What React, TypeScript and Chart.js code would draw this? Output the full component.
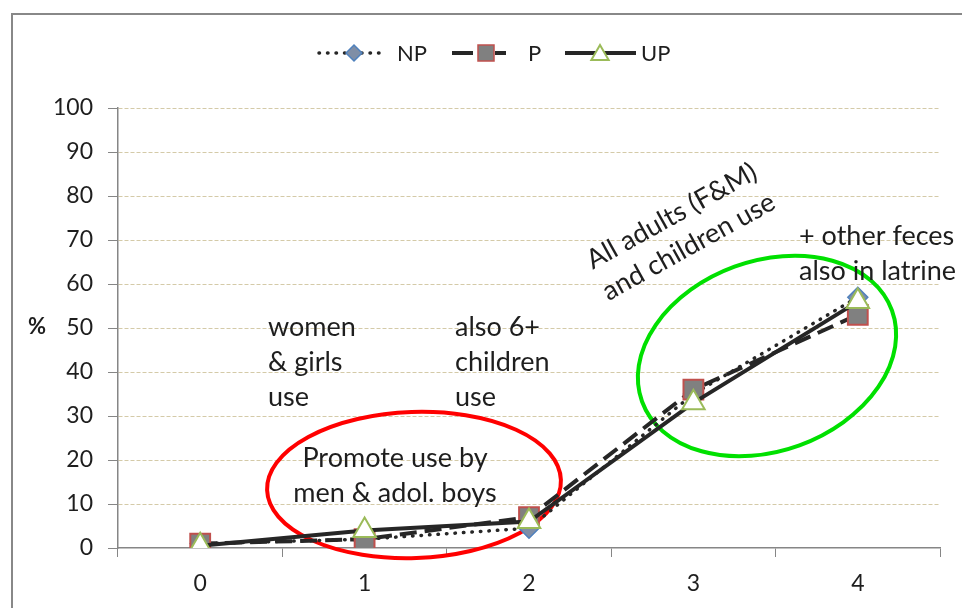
import React, { useEffect, useRef } from "react";
import { Chart, registerables } from "chart.js";

Chart.register(...registerables);

const categories = ["0", "1", "2", "3", "4"];
const npValues = [1, 2, 4.5, 35, 57];
const pValues = [1, 2, 7, 36, 53];
const upValues = [0.5, 4, 6, 33, 56];
const yTicks = [0, 10, 20, 30, 40, 50, 60, 70, 80, 90, 100];
const seriesNames = ["NP", "P", "UP"];

const FONT = "Lato, 'Open Sans', sans-serif";
const LINE = "#262626";
const TEXT = "#1E1E1E";

function drawDiamond(ctx: CanvasRenderingContext2D, x: number, y: number, r: number) {
  ctx.beginPath();
  ctx.moveTo(x - r, y);
  ctx.lineTo(x, y - r);
  ctx.lineTo(x + r, y);
  ctx.lineTo(x, y + r);
  ctx.closePath();
  ctx.fillStyle = "#7F8EA6";
  ctx.fill();
  ctx.strokeStyle = "#4F81BD";
  ctx.lineWidth = 1.5;
  ctx.stroke();
}
function drawSquare(ctx: CanvasRenderingContext2D, x: number, y: number, h: number) {
  ctx.beginPath();
  ctx.rect(x - h, y - h, 2 * h, 2 * h);
  ctx.fillStyle = "#808080";
  ctx.fill();
  ctx.strokeStyle = "#C0504D";
  ctx.lineWidth = 1.5;
  ctx.stroke();
}
function drawTriangle(ctx: CanvasRenderingContext2D, x: number, y: number, r: number) {
  ctx.beginPath();
  ctx.moveTo(x, y - r);
  ctx.lineTo(x + r * 0.866, y + r * 0.5);
  ctx.lineTo(x - r * 0.866, y + r * 0.5);
  ctx.closePath();
  ctx.fillStyle = "#FFFFFF";
  ctx.fill();
  ctx.strokeStyle = "#9BBB59";
  ctx.lineWidth = 2;
  ctx.stroke();
}

const decorPlugin = {
  id: "decor",
  beforeDraw(chart: any) {
    const ctx = chart.ctx as CanvasRenderingContext2D;
    ctx.save();
    ctx.fillStyle = "#FFFFFF";
    ctx.fillRect(0, 0, chart.width, chart.height);
    ctx.strokeStyle = "#888888";
    ctx.lineWidth = 2;
    ctx.beginPath();
    ctx.moveTo(12, chart.height + 2);
    ctx.lineTo(12, 14);
    ctx.lineTo(chart.width + 2, 14);
    ctx.stroke();
    ctx.restore();
  },
  beforeDatasetsDraw(chart: any) {
    const ctx = chart.ctx as CanvasRenderingContext2D;
    ctx.save();
    ctx.lineWidth = 4;
    ctx.strokeStyle = "#FF0000";
    ctx.beginPath();
    ctx.ellipse(414, 485, 147, 73, (-2 * Math.PI) / 180, 0, Math.PI * 2);
    ctx.stroke();
    ctx.strokeStyle = "#00E000";
    ctx.beginPath();
    ctx.ellipse(767, 356, 133, 95, (-20 * Math.PI) / 180, 0, Math.PI * 2);
    ctx.stroke();
    ctx.restore();
  },
  afterDraw(chart: any) {
    const ctx = chart.ctx as CanvasRenderingContext2D;
    ctx.save();
    // Legend
    const ly = 53;
    ctx.lineWidth = 3.5;
    ctx.strokeStyle = LINE;
    ctx.lineCap = "round";
    ctx.setLineDash([0.5, 8]);
    ctx.beginPath();
    ctx.moveTo(319, ly);
    ctx.lineTo(385, ly);
    ctx.stroke();
    ctx.lineCap = "butt";
    ctx.setLineDash([]);
    ctx.lineWidth = 4;
    ctx.beginPath();
    ctx.moveTo(452, ly);
    ctx.lineTo(473, ly);
    ctx.moveTo(495, ly);
    ctx.lineTo(506, ly);
    ctx.stroke();
    ctx.beginPath();
    ctx.moveTo(565, ly);
    ctx.lineTo(636, ly);
    ctx.stroke();
    drawDiamond(ctx, 354, ly, 8);
    drawSquare(ctx, 486, ly, 8);
    drawTriangle(ctx, 600, ly + 2, 10);
    ctx.fillStyle = TEXT;
    ctx.font = `22px ${FONT}`;
    ctx.textBaseline = "middle";
    ctx.textAlign = "left";
    ctx.fillText(seriesNames[0], 397, ly + 1);
    ctx.fillText(seriesNames[1], 528, ly + 1);
    ctx.fillText(seriesNames[2], 641, ly + 1);

    // Y axis title
    ctx.font = `bold 22px ${FONT}`;
    ctx.textAlign = "center";
    ctx.fillText("%", 37, 327);

    // Annotations
    ctx.font = `27px ${FONT}`;
    ctx.textAlign = "left";
    const lines = (arr: string[], x: number, y0: number, dy: number) =>
      arr.forEach((t, i) => ctx.fillText(t, x, y0 + i * dy));
    lines(["women", "& girls", "use"], 268, 327, 35);
    lines(["also 6+", "children", "use"], 455, 327, 35);
    lines(["+ other feces", "also in latrine"], 799, 236, 35);
    ctx.textAlign = "center";
    lines(["Promote use by", "men & adol. boys"], 395, 458, 35);

    ctx.save();
    ctx.translate(680, 231);
    ctx.rotate((-29 * Math.PI) / 180);
    ctx.textAlign = "center";
    ctx.fillText("All adults (F&M)", 0, -17);
    ctx.fillText("and children use", 0, 18);
    ctx.restore();

    ctx.restore();
  },
};

export default function App() {
  const ref = useRef<HTMLCanvasElement>(null);
  useEffect(() => {
    if (!ref.current) return;
    const chart = new Chart(ref.current, {
      type: "line",
      data: {
        labels: categories,
        datasets: [
          {
            label: seriesNames[0],
            data: npValues,
            borderColor: LINE,
            borderWidth: 3.5,
            borderDash: [0.5, 8],
            borderCapStyle: "round",
            pointStyle: "rectRot",
            pointRadius: 10,
            pointBackgroundColor: "#7F8EA6",
            pointBorderColor: "#4F81BD",
            pointBorderWidth: 1.5,
            tension: 0,
            order: 3,
          },
          {
            label: seriesNames[1],
            data: pValues,
            borderColor: LINE,
            borderWidth: 4,
            borderDash: [17, 8],
            pointStyle: "rect",
            pointRadius: 14,
            pointBackgroundColor: "#808080",
            pointBorderColor: "#C0504D",
            pointBorderWidth: 2,
            tension: 0,
            order: 2,
          },
          {
            label: seriesNames[2],
            data: upValues,
            borderColor: LINE,
            borderWidth: 4,
            pointStyle: "triangle",
            pointRadius: 13,
            pointBackgroundColor: "#FFFFFF",
            pointBorderColor: "#9BBB59",
            pointBorderWidth: 2,
            tension: 0,
            order: 1,
          },
        ],
      },
      options: {
        responsive: false,
        animation: false,
        devicePixelRatio: 1,
        layout: { padding: { left: 0, top: 108, right: 22, bottom: 0 } },
        plugins: { legend: { display: false }, tooltip: { enabled: false } },
        scales: {
          x: {
            type: "category",
            offset: true,
            afterFit: (s: any) => {
              s.height = 60;
            },
            grid: {
              offset: true,
              drawOnChartArea: false,
              drawTicks: true,
              tickLength: 9,
              color: "#868686",
            },
            border: { color: "#868686", width: 1.5 },
            ticks: { color: TEXT, font: { family: FONT, size: 23 }, padding: 13 },
          },
          y: {
            type: "linear",
            min: 0,
            max: 100,
            afterFit: (s: any) => {
              s.width = 118;
            },
            afterBuildTicks: (s: any) => {
              s.ticks = yTicks.map((v) => ({ value: v }));
            },
            grid: {
              color: (c: any) => (c.tick && c.tick.value === 0 ? "rgba(0,0,0,0)" : "#D4CAA8"),
              tickColor: "#868686",
              tickLength: 10,
              lineWidth: 1,
            },
            border: { color: "#868686", width: 1.5, dash: [4, 2] },
            ticks: { color: TEXT, font: { family: FONT, size: 23 }, padding: 15 },
          },
        },
      },
      plugins: [decorPlugin],
    });
    return () => chart.destroy();
  }, []);
  return (
    <div style={{ position: "fixed", left: 0, top: 0, width: 962, height: 608, background: "#fff" }}>
      <canvas ref={ref} width={962} height={608} style={{ display: "block" }} />
    </div>
  );
}
